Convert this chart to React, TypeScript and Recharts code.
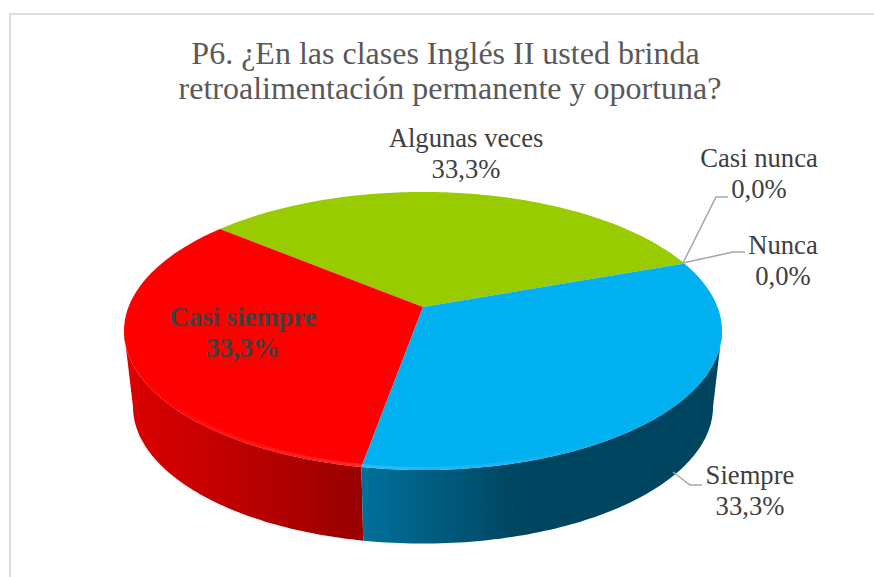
import React from 'react';
import { PieChart, Pie } from 'recharts';

const categories = ['Nunca', 'Casi nunca', 'Algunas veces', 'Casi siempre', 'Siempre'];
const values = [0, 0, 33.3, 33.3, 33.3];
const colors = ['#4472c4', '#ed7d31', '#99cc00', '#ff0000', '#00b0f0'];
const titleLines = ['P6. ¿En las clases Inglés II usted brinda', 'retroalimentación permanente y oportuna?'];

const data = categories.map((name, i) => ({ name, value: values[i], fill: colors[i] }));

const SERIF = '"Liberation Serif", serif';
const W = 874;
const H = 577;
const PERSP = 0.1726;
const SQUASH = 0.458;
const BOTTOM_DY = 76;
const BOTTOM_SCALE = 0.97;

const labelLayout: Record<string, { x: number; y: number; line?: number[][]; bold?: boolean }> = {
  Nunca: { x: 783, y: 254, line: [[683, 263], [733, 252], [745, 252]] },
  'Casi nunca': { x: 759, y: 167, line: [[683, 263], [716, 197], [728, 197]] },
  'Algunas veces': { x: 466, y: 147 },
  'Casi siempre': { x: 243, y: 326, bold: true },
  Siempre: { x: 750, y: 484, line: [[673, 472], [690, 485], [702, 485]] },
};

function project(cx: number, cy: number, r: number, deg: number, bottom = false) {
  const a = (deg * Math.PI) / 180;
  const X = Math.cos(a);
  const Y = Math.sin(a);
  const w = 1 + PERSP * Y;
  const rx = bottom ? r * BOTTOM_SCALE : r;
  const q = r * SQUASH * (bottom ? 0.985 : 1);
  return [cx + (rx * X) / w, cy + (bottom ? BOTTOM_DY : 0) - (q * Y) / w];
}

function arcPoints(cx: number, cy: number, r: number, from: number, to: number, bottom = false) {
  const pts: number[][] = [];
  const n = Math.max(2, Math.ceil(Math.abs(to - from)));
  for (let i = 0; i <= n; i++) pts.push(project(cx, cy, r, from + ((to - from) * i) / n, bottom));
  return pts;
}

const toPath = (pts: number[][]) => pts.map((p, i) => `${i ? 'L' : 'M'}${p[0].toFixed(2)},${p[1].toFixed(2)}`).join(' ');

function Slice3D(props: any) {
  const { cx, cy, outerRadius, startAngle, endAngle, fill, name } = props;
  if (Math.abs(endAngle - startAngle) < 0.01) return <g />;
  const lo = Math.min(startAngle, endAngle);
  const hi = Math.max(startAngle, endAngle);
  const top = arcPoints(cx, cy, outerRadius, lo, hi);
  const from = Math.max(lo, 190);
  const to = Math.min(hi, 350);
  const hasWall = to > from;
  const wallTop = hasWall ? arcPoints(cx, cy, outerRadius, from, to) : [];
  const wallBot = hasWall ? arcPoints(cx, cy, outerRadius, to, from, true) : [];
  const gid = `wall-${name.replace(/\s/g, '')}`;
  const isRed = fill === '#ff0000';
  const rim = arcPoints(cx, cy, outerRadius - 3, Math.max(lo, 200), Math.min(hi, 330));
  return (
    <g>
      {hasWall && (
        <>
          <defs>
            <linearGradient id={gid} gradientUnits="userSpaceOnUse" x1={isRed ? 132 : 361} x2={isRed ? 361 : 520} y1={0} y2={0}>
              <stop offset="0" stopColor={isRed ? '#dc0000' : '#00719c'} />
              <stop offset="1" stopColor={isRed ? '#990000' : '#00455f'} />
            </linearGradient>
            <linearGradient id={`${gid}-rim`} gradientUnits="userSpaceOnUse" x1={isRed ? 150 : 361} x2={isRed ? 361 : 640} y1={0} y2={0}>
              <stop offset="0" stopColor="#ffffff" stopOpacity={isRed ? 0 : 0.16} />
              <stop offset="1" stopColor="#ffffff" stopOpacity={isRed ? 0.16 : 0} />
            </linearGradient>
          </defs>
          <path d={`${toPath(wallTop)} ${toPath(wallBot).replace('M', 'L')} Z`} fill={`url(#${gid})`} />
        </>
      )}
      <path d={`M${cx},${cy} ${toPath(top).replace('M', 'L')} Z`} fill={fill} />
      {hasWall && (
        <path d={toPath(rim)} fill="none" stroke={`url(#${gid}-rim)`} strokeWidth={3} />
      )}
    </g>
  );
}

function renderLabel(props: any) {
  const { name, value } = props;
  const l = labelLayout[name];
  if (!l) return <g />;
  const pct = `${Number(value).toFixed(1).replace('.', ',')}%`;
  return (
    <g>
      {l.line && (
        <polyline
          points={l.line.map((p) => p.join(',')).join(' ')}
          fill="none"
          stroke="#a6a6a6"
          strokeWidth={1.5}
        />
      )}
      <text
        x={l.x}
        y={l.y}
        textAnchor="middle"
        fontFamily={SERIF}
        fontSize={26.67}
        fontWeight={l.bold ? 700 : 400}
        fill="#404040"
      >
        <tspan x={l.x}>{name}</tspan>
        <tspan x={l.x} dy={31}>{pct}</tspan>
      </text>
    </g>
  );
}

export default function App() {
  return (
    <div style={{ position: 'absolute', left: 0, top: 0, width: W, height: H, background: '#fff', overflow: 'hidden' }}>
      <div
        style={{
          position: 'absolute',
          left: 9,
          top: 13,
          width: 880,
          height: 600,
          border: '2px solid #dedede',
          boxSizing: 'border-box',
        }}
      />
      <PieChart width={W} height={H} margin={{ top: 0, right: 0, bottom: 0, left: 0 }} style={{ position: 'absolute', left: 0, top: 0 }}>
        <text textAnchor="middle" fontFamily={SERIF} fontSize={32} fill="#595959">
          <tspan x={445.5} y={64}>{titleLines[0]}</tspan>
          <tspan x={450} y={99}>{titleLines[1]}</tspan>
        </text>
        <Pie
          data={data}
          dataKey="value"
          nameKey="name"
          cx={423}
          cy={307}
          innerRadius={0}
          outerRadius={294.5}
          startAngle={20}
          endAngle={380}
          paddingAngle={0}
          stroke="none"
          isAnimationActive={false}
          shape={Slice3D}
          label={renderLabel}
          labelLine={false}
        />
      </PieChart>
    </div>
  );
}
